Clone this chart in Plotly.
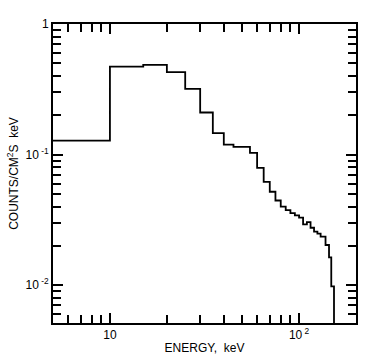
import plotly.graph_objects as go

# bin edges (keV) and count rates per bin
edges = [5, 10, 15, 20, 25, 30, 35, 40, 45, 55, 60, 65, 70, 75, 80, 85, 90, 95,
         100, 105, 110, 115, 120, 125, 130, 138, 144, 148, 153]
rates = [0.128, 0.472, 0.486, 0.428, 0.319, 0.210, 0.146, 0.119, 0.1145, 0.103,
         0.079, 0.0618, 0.0519, 0.0445, 0.0399, 0.0376, 0.0356, 0.0342, 0.0329,
         0.0292, 0.0304, 0.0275, 0.0257, 0.0248, 0.0235, 0.0203, 0.0163, 0.0098]
floor_value = 0.004

x_ticks = [10, 100]
x_ticktext = ["10", "10<sup> 2</sup>"]
y_ticks = [0.01, 0.1, 1]
y_ticktext = ["10<sup> -2</sup>", "10<sup> -1</sup>", "1"]
x_minor = [6, 7, 8, 9, 20, 30, 40, 50, 60, 70, 80, 90]
y_minor = [0.006, 0.007, 0.008, 0.009, 0.02, 0.03, 0.04, 0.05, 0.06, 0.07, 0.08,
           0.09, 0.2, 0.3, 0.4, 0.5, 0.6, 0.7, 0.8, 0.9]

x_range = [0.699, 2.301]
y_range = [-2.29, 0]

fig = go.Figure()
fig.add_trace(go.Scatter(
    x=edges, y=rates + [floor_value], mode="lines",
    line=dict(shape="hv", color="black", width=1.8),
    showlegend=False, hoverinfo="skip"))

font = dict(family="Liberation Sans, Arial, sans-serif", size=12, color="black")
axis_common = dict(type="log", showgrid=False, zeroline=False, showline=True,
                   linecolor="black", linewidth=2, mirror="ticks",
                   ticks="inside", ticklen=10, tickwidth=2, tickcolor="black",
                   tickfont=font)
minor_style = dict(ticks="inside", ticklen=8, tickwidth=2, tickcolor="black")

fig.update_layout(
    width=389, height=364, plot_bgcolor="white", paper_bgcolor="white",
    margin=dict(l=53, r=33, t=24, b=41), font=font,
    xaxis=dict(**axis_common, range=x_range, tickvals=x_ticks, ticktext=x_ticktext,
               minor=dict(**minor_style, tickvals=x_minor),
               title=dict(text="ENERGY,  keV", font=font, standoff=2)),
    yaxis=dict(**axis_common, range=y_range, tickvals=y_ticks, ticktext=y_ticktext,
               minor=dict(**minor_style, tickvals=y_minor),
               title=dict(text="COUNTS/CM<sup>2</sup>S  keV", font=font, standoff=4)),
)
fig.write_html("out.html", post_script="document.body.style.margin='0';",
               config={"displayModeBar": False})
